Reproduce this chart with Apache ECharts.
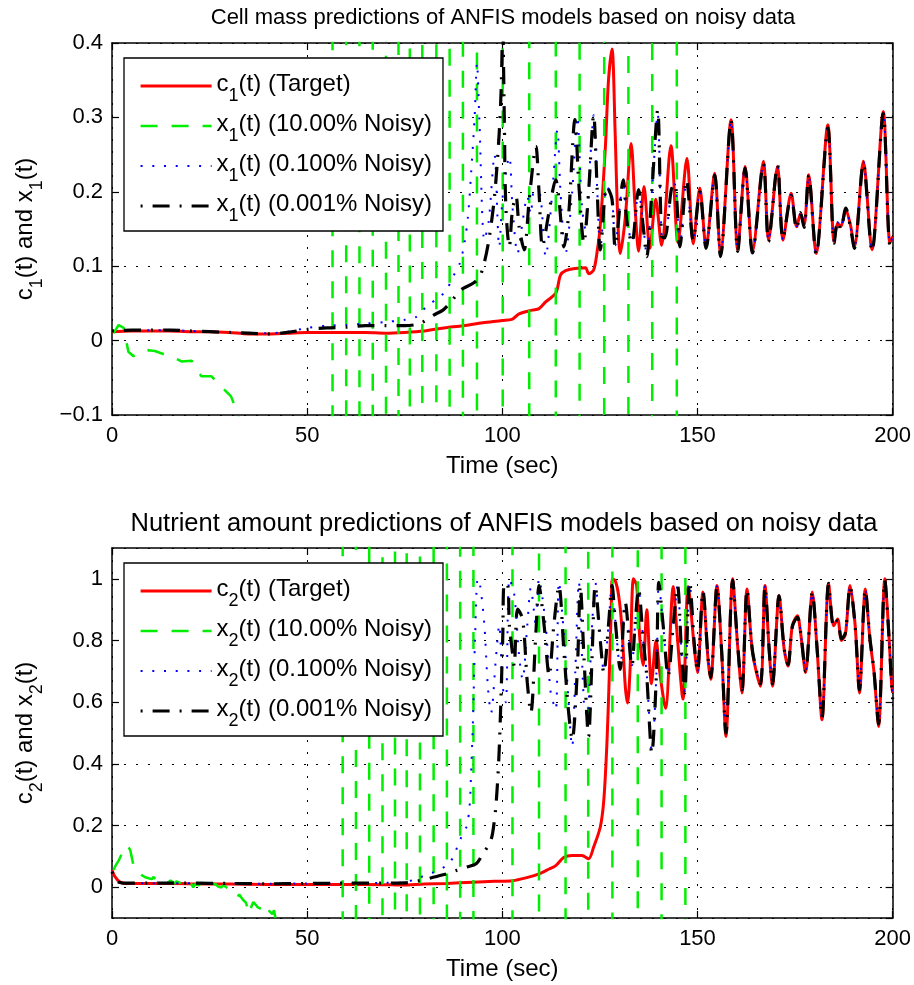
<!DOCTYPE html>
<html><head><meta charset="utf-8">
<script src="https://cdn.jsdelivr.net/npm/echarts@6/dist/echarts.min.js"></script>
<style>html,body{margin:0;padding:0;background:#fff}#c{width:914px;height:985px}</style>
</head><body><div id="c"></div><script>
// ---------------- DATA ----------------
const title1 = 'Cell mass predictions of ANFIS models based on noisy data';
const title2 = 'Nutrient amount predictions of ANFIS models based on noisy data';
const xTicks = [0, 50, 100, 150, 200];
const yTicks1 = [-0.1, 0, 0.1, 0.2, 0.3, 0.4];
const yTicks2 = [0, 0.2, 0.4, 0.6, 0.8, 1];
const yRange2 = [-0.1, 1.1];
const names1 = ['c1(t) (Target)', 'x1(t) (10.00% Noisy)', 'x1(t) (0.100% Noisy)', 'x1(t) (0.001% Noisy)'];
const names2 = ['c2(t) (Target)', 'x2(t) (10.00% Noisy)', 'x2(t) (0.100% Noisy)', 'x2(t) (0.001% Noisy)'];

// --- top: cell mass ---
const c1T = [0,5,10,15,20,25,30,35,40,45,50,55,60,65,70,75,80,85,90,95,100,102.6,104.3,107.7,109.4,111.1,113.7,114.9,116.2,118.7,121.3,122.1,123.4,124.3,125.1,126.4,127.2,128.1,128.9,129.5,130.2,131.5,133.0,134.0,134.9,136.3,137.8,139.3,140.8,143.2,145.0,147.3,148.9,150.6,152.2,154.4,155.9,158.6,160.3,162.2,164.1,166.9,168.2,170.5,171.9,174.0,175.4,176.4,177.3,178.5,180.4,183.4,185.0,185.9,186.7,188.0,189.2,190.2,192.5,194.7,197.6,199.3,200];
const c1Y = [0.012,0.013,0.013,0.013,0.012,0.012,0.011,0.009,0.009,0.010,0.011,0.011,0.011,0.011,0.010,0.011,0.013,0.017,0.020,0.024,0.027,0.029,0.036,0.041,0.043,0.052,0.064,0.088,0.094,0.097,0.098,0.090,0.095,0.120,0.155,0.260,0.350,0.392,0.280,0.175,0.117,0.165,0.265,0.180,0.120,0.207,0.124,0.190,0.128,0.262,0.132,0.245,0.130,0.205,0.126,0.225,0.116,0.297,0.122,0.234,0.120,0.241,0.135,0.234,0.135,0.198,0.153,0.170,0.155,0.223,0.117,0.290,0.133,0.158,0.153,0.176,0.155,0.126,0.241,0.122,0.308,0.131,0.140];

const g1T = [0.4,1.7,3.0,4.2,5.5,6.8,9.3,11.0,13.6,15.5,17.8,20.4,22.9,25.5,28.0,30.5,32.2,33.5,35.0];
const g1Y = [0.010,0.021,0.017,-0.015,-0.021,-0.016,-0.013,-0.014,-0.019,-0.022,-0.028,-0.027,-0.048,-0.048,-0.062,-0.075,-0.098,-0.130,-0.300];
const g1Cross = [56.5,60.0,63.4,66.8,70.2,73.4,76.3,79.5,83.1,86.5,89.9,93.5,100.1,106.9,113.7,119.8,126.1,132.3,138.4,144.7];

const u1T = [0,5,10,15,20,25,30,35,40,45,50,55,60,65,70,75,78,80.6,84,85.7,87.4,89.1,90.3,91.2,92.0,92.9,93.5,94.1,95.4,96.5,98.0,99.2,100.2,101.8,102.6,103.9,105.2,106.4,107.3,108.1,109.4,111.1,112.8,114.1,114.9,116.2,117.9,119.2,120.4,121.3,122.6,123.4,
  124.3,125.1,126.8,128.1,128.9,131.0,131.9,133.2,134.9,136.1,137.0,138.3,139.8,140.8,141.6,143.3,144.2,145.5,147.2,148.9,150.6,152.2,154.4,155.9,158.6,160.3,162.2,164.1,166.9,168.2,170.5,171.9,174.0,175.4,176.4,177.3,178.5,180.4,183.4,185.0,185.9,186.7,188.0,189.2,190.2,192.5,194.7,197.6,199.3,200];
const u1Y = [0.013,0.014,0.014,0.014,0.013,0.012,0.011,0.010,0.010,0.012,0.017,0.020,0.021,0.023,0.025,0.028,0.032,0.046,0.059,0.068,0.086,0.104,0.131,0.167,0.225,0.300,0.373,0.300,0.135,0.160,0.250,0.126,0.200,0.247,0.180,0.117,0.160,0.194,0.170,0.200,0.200,0.113,0.200,0.283,0.200,0.117,0.200,0.301,0.180,0.149,0.250,0.303,
  0.205,0.124,0.207,0.192,0.128,0.214,0.162,0.133,0.201,0.155,0.115,0.198,0.305,0.142,0.140,0.200,0.210,0.128,0.214,0.137,0.201,0.125,0.223,0.115,0.296,0.121,0.233,0.119,0.239,0.134,0.234,0.136,0.196,0.152,0.171,0.154,0.222,0.117,0.288,0.132,0.159,0.152,0.177,0.153,0.125,0.240,0.121,0.306,0.130,0.139];

const b1T = [0,5,10,15,20,25,30,35,40,45,50,55,60,65,70,75,78.9,82.3,84.8,86.5,88.2,89.9,92.5,94.2,95.4,96.7,98.0,99.1,99.7,100.1,100.5,100.9,101.8,102.6,103.5,104.3,105.6,106.9,108.6,109.4,110.3,111.9,113.7,114.5,115.8,117.0,118.6,119.6,120.9,122.1,123.4,124.3,125.1,126.8,128.1,128.9,131.0,131.9,133.2,134.9,136.1,137.0,138.3,139.8,140.8,141.6,143.3,144.2,145.5,147.2,148.9,150.6,152.2,154.4,155.9,158.6,160.3,162.2,164.1,166.9,168.2,170.5,171.9,174.0,175.4,176.4,177.3,178.5,180.4,183.4,185.0,185.9,186.7,188.0,189.2,190.2,192.5,194.7,197.6,199.3,200];
const b1Y = [0.013,0.014,0.014,0.014,0.013,0.012,0.011,0.010,0.009,0.011,0.015,0.017,0.018,0.020,0.020,0.020,0.023,0.034,0.041,0.050,0.061,0.070,0.077,0.086,0.105,0.140,0.194,0.270,0.337,0.420,0.300,0.180,0.126,0.176,0.194,0.153,0.122,0.190,0.261,0.200,0.126,0.171,0.216,0.190,0.126,0.170,0.297,0.210,0.131,0.200,0.303,0.203,0.122,0.207,0.190,0.126,0.216,0.160,0.131,0.203,0.153,0.113,0.200,0.310,0.140,0.138,0.203,0.211,0.126,0.216,0.135,0.200,0.124,0.222,0.113,0.296,0.120,0.232,0.118,0.238,0.133,0.236,0.137,0.195,0.150,0.172,0.152,0.222,0.116,0.286,0.131,0.160,0.150,0.178,0.152,0.124,0.238,0.120,0.305,0.129,0.138];

// --- bottom: nutrient amount ---
const c2T = [0,0.5,1,1.5,2,3,5,10,20,30,40,50,60,70,74,80,85.7,92.5,98,102.6,106,109.4,112,113.7,115.8,117.9,120.4,122.1,123.4,125.1,126.0,126.8,127.4,127.9,128.2,128.9,129.8,130.6,131.5,132.1,132.7,133.6,134.4,135.3,136.1,137.0,138.2,139.4,140.3,141.8,143.8,144.6,146.3,147.6,149.3,150.0,151.4,152.7,153.4,155.0,156.2,157.3,159.0,160.3,161.4,162.7,164.1,166.1,167.3,168.4,169.2,170.9,172.2,173.2,174.3,175.6,176.4,177.7,179.4,180.7,181.9,183.6,184.9,185.9,186.9,187.9,189.1,190.4,191.5,193.0,194.2,195.2,196.4,198.0,198.9,199.7,200];
const c2Y = [0.055,0.040,0.030,0.022,0.017,0.013,0.012,0.012,0.011,0.010,0.009,0.009,0.009,0.008,0.007,0.010,0.012,0.016,0.019,0.021,0.030,0.043,0.059,0.070,0.097,0.103,0.103,0.092,0.130,0.195,0.282,0.467,0.685,0.902,1.000,0.995,0.946,0.848,0.652,0.597,0.700,1.000,0.980,0.793,0.720,0.900,0.660,0.800,0.700,0.580,0.975,0.850,0.610,0.975,0.761,0.696,0.957,0.739,0.674,0.978,0.760,0.489,1.000,0.780,0.630,0.967,0.761,0.652,0.978,0.760,0.652,0.946,0.772,0.717,0.848,0.880,0.826,0.696,0.957,0.760,0.543,0.984,0.848,0.870,0.800,0.820,0.978,0.848,0.630,0.967,0.800,0.700,0.521,1.000,0.850,0.663,0.630];

const g2T = [0.4,1.0,1.7,2.5,3.2,3.8,4.3,4.7,5.1,5.5,6.0,6.8,7.5,8.0,8.5,9.0,9.6,10.2,10.6,11.0,11.5,11.9,12.4,13.0,13.6,14.4,15.0,15.5,16.0,16.5,17.0,17.5,18.0,18.5,19.1,19.6,20.0,20.4,20.8,21.3,21.8,22.3,22.9,23.4,24.0,24.7,25.5,26.0,26.5,27.2,28.0,28.5,29.0,29.7,30.5,31.0,31.5,32.2,32.6,33.0,33.5,33.9,34.3,34.6,35.2,35.5,35.8,36.2,36.5,36.9,37.3,37.7,38.2,38.6,39.0,39.5,39.9,40.5,41.1,41.5,42.0,44.0];
const g2Y = [0.056,0.072,0.086,0.108,0.118,0.136,0.128,0.119,0.095,0.070,0.058,0.048,0.040,0.036,0.032,0.036,0.028,0.026,0.033,0.030,0.022,0.021,0.028,0.024,0.017,0.015,0.022,0.020,0.012,0.019,0.023,0.014,0.016,0.027,0.026,0.015,0.018,0.009,-0.001,0.010,0.012,0.006,0.015,0.007,0.008,0.013,0.005,0.011,0.011,0.002,-0.001,0.006,0.004,-0.004,-0.011,-0.008,-0.018,-0.031,-0.024,-0.028,-0.040,-0.044,-0.050,-0.055,-0.087,-0.072,-0.060,-0.048,-0.044,-0.058,-0.065,-0.062,-0.071,-0.055,-0.060,-0.066,-0.071,-0.080,-0.087,-0.075,-0.108,-0.300];
const g2Cross = [59.1,62.5,65.9,69.3,72.5,75.5,78.9,82.4,85.8,89.2,92.6,102.6,109.4,116.2,122.0,128.2,134.7,140.8,146.9];
const offScale = 3;

const u2T = [0,0.5,1,1.5,2,3,5,10,20,30,40,50,60,70,75,78.9,82.3,85.7,87.4,89.1,90.8,91.6,92.0,92.5,93.0,93.7,94.3,95.4,96.3,97.1,98.4,99.2,100.1,100.9,101.8,103.05,104.3,105.2,106.4,107.3,108.6,109.4,111.1,112.4,113.7,114.5,116.2,117.9,118.7,119.6,120.9,121.7,123.0,123.8,
  125.1,126.0,127.2,128.1,128.9,130.2,131.5,133.2,134.0,134.9,136.1,137.0,138.3,139.5,140.1,141.2,142.5,143.8,144.9,145.9,146.7,148.0,149.3,150.0,151.4,152.7,153.4,155.0,156.2,157.3,159.0,160.3,161.4,162.7,164.1,166.1,167.3,168.4,169.2,170.9,172.2,173.2,174.3,175.6,176.4,177.7,179.4,180.7,181.9,183.6,184.9,185.9,186.9,187.9,189.1,190.4,191.5,193.0,194.2,195.2,196.4,198.0,198.9,199.7,200];
const u2Y = [0.050,0.035,0.025,0.018,0.015,0.013,0.013,0.013,0.013,0.012,0.011,0.012,0.013,0.014,0.016,0.032,0.048,0.070,0.097,0.152,0.195,0.260,0.370,0.550,0.800,1.000,0.980,0.850,0.650,0.565,0.750,0.850,0.650,0.600,1.000,0.950,0.750,0.674,0.850,0.970,0.850,1.000,0.850,0.630,0.576,0.990,0.750,0.456,0.700,0.990,0.600,0.554,0.850,0.990,
  0.800,0.700,0.850,0.980,0.870,0.710,0.920,0.720,0.850,0.965,0.800,0.690,0.440,0.700,0.985,0.850,0.690,0.850,0.975,0.760,0.635,0.985,0.770,0.700,0.960,0.745,0.680,0.975,0.765,0.500,0.995,0.785,0.640,0.965,0.765,0.660,0.975,0.765,0.660,0.945,0.775,0.722,0.845,0.875,0.830,0.700,0.955,0.765,0.550,0.985,0.845,0.865,0.805,0.825,0.975,0.845,0.640,0.965,0.805,0.705,0.530,0.995,0.845,0.665,0.610];

const b2T = [0,0.5,1,1.5,2,3,5,10,20,30,40,50,60,70,75,78,82.3,85.7,88.2,90.8,93.3,95.0,96.7,97.5,98.4,99.2,100.1,100.5,101.4,101.8,102.6,103.05,103.9,105.2,106.4,107.3,108.6,109.4,110.7,112.0,113.2,114.5,115.8,117.0,117.9,119.2,120.0,120.9,122.1,123.0,123.8,125.1,126.0,127.2,128.1,128.9,130.2,131.5,133.2,134.0,134.9,136.1,137.0,138.3,139.5,140.1,141.2,142.5,143.8,144.9,145.9,146.7,148.0,149.3,150.0,151.4,152.7,153.4,155.0,156.2,157.3,159.0,160.3,161.4,162.7,164.1,166.1,167.3,168.4,169.2,170.9,172.2,173.2,174.3,175.6,176.4,177.7,179.4,180.7,181.9,183.6,184.9,185.9,186.9,187.9,189.1,190.4,191.5,193.0,194.2,195.2,196.4,198.0,198.9,199.7,200];
const b2Y = [0.050,0.035,0.025,0.018,0.015,0.013,0.013,0.013,0.013,0.012,0.011,0.012,0.013,0.013,0.014,0.019,0.032,0.043,0.054,0.065,0.076,0.108,0.141,0.174,0.270,0.445,0.804,0.985,0.980,0.850,0.760,0.717,0.902,0.870,0.663,0.565,0.826,0.978,0.850,0.685,0.850,0.978,0.760,0.565,0.478,0.700,0.978,0.750,0.489,0.750,0.978,0.800,0.695,0.850,0.978,0.870,0.706,0.924,0.717,0.850,0.967,0.800,0.685,0.434,0.700,0.989,0.850,0.685,0.850,0.978,0.760,0.630,0.990,0.770,0.700,0.960,0.745,0.680,0.975,0.765,0.500,0.995,0.785,0.640,0.965,0.765,0.660,0.975,0.765,0.660,0.945,0.775,0.722,0.845,0.875,0.830,0.700,0.955,0.765,0.550,0.985,0.845,0.865,0.805,0.825,0.975,0.845,0.640,0.965,0.805,0.705,0.530,0.995,0.845,0.665,0.610];

// ---------------- CHART ----------------
const FONT = '"Liberation Sans", Arial, Helvetica, sans-serif';
// main text nudged up, subscript pushed down (padding shifts the glyph by half its amount)
const rich = {
  m: {fontSize: 24, lineHeight: 26, padding: [0, 0, 4, 0], fontFamily: FONT, color: '#000'},
  s: {fontSize: 18, lineHeight: 18, padding: [20, 0, 0, 0], fontFamily: FONT, color: '#000'}
};
const subFmt = n => `{m|${n[0]}}{s|${n[1]}}{m|${n.slice(2)}}`;
const zip = (t, y) => t.map((v, i) => [v, y[i]]);
function withCross(t, y, cross) {
  const d = zip(t, y);
  let s = -1;
  cross.forEach(x => { d.push([x, s * offScale]); d.push([x, -s * offScale]); s = -s; });
  return d;
}
const fmtY = v => { const r = parseFloat(Number(v).toFixed(3)); return (r < 0 ? '\u2212' : '') + Math.abs(r); };

function xAx(g, pos, main) {
  return {
    type: 'value', gridIndex: g, position: pos, min: xTicks[0], max: xTicks[xTicks.length - 1], interval: xTicks[1] - xTicks[0],
    axisLine: {show: true, onZero: false, lineStyle: {color: '#000', width: 1.5}},
    axisTick: {show: true, inside: true, length: 7, lineStyle: {color: '#000', width: 1.2}},
    axisLabel: {show: main, fontSize: 22, color: '#000', fontFamily: FONT, margin: 10},
    splitLine: {show: main, lineStyle: {type: [2, 10], color: '#000', width: 1}},
    name: main ? 'Time (sec)' : '', nameLocation: 'middle', nameGap: 39,
    nameTextStyle: {fontSize: 24, color: '#000', fontFamily: FONT}
  };
}
function yAx(g, pos, main, name, range, interval) {
  const a = {
    type: 'value', gridIndex: g, position: pos, min: range[0], max: range[1],
    axisLine: {show: true, onZero: false, lineStyle: {color: '#000', width: 1.5}},
    axisTick: {show: true, inside: true, length: 7, lineStyle: {color: '#000', width: 1.2}},
    axisLabel: {show: main, fontSize: 22, color: '#000', fontFamily: FONT, margin: 9, formatter: fmtY},
    splitLine: {show: main, lineStyle: {type: [2, 10], color: '#000', width: 1}},
    name: main ? name : '', nameLocation: 'middle', nameGap: 72,
    nameTextStyle: {fontSize: 24, color: '#000', fontFamily: FONT, rich: rich}
  };
  if (interval) a.interval = interval; else { a.splitNumber = 6; a.axisLabel.showMinLabel = false; a.axisLabel.showMaxLabel = false; }
  return a;
}
function legend(top, names) {
  return {
    orient: 'vertical', left: 124, top: top, itemWidth: 71, itemHeight: 20, itemGap: 2,
    padding: [9, 11, 6, 15], backgroundColor: '#fff', borderColor: '#000', borderWidth: 1.3,
    selectedMode: false, data: names, formatter: subFmt,
    textStyle: {fontSize: 24, color: '#000', fontFamily: FONT, rich: rich},
    itemStyle: {opacity: 0, borderWidth: 0},
    lineStyle: {width: 'inherit'}
  };
}
const red = '#ff0000', green = '#00ee00', blue = '#0000ff', black = '#000000';
function ser(name, g, data, color, width, type, smooth) {
  return {name, type: 'line', xAxisIndex: g, yAxisIndex: g, data, symbol: 'none', showSymbol: false,
    smooth: smooth ? 0.3 : false, clip: true, color: color,
    lineStyle: {color, width, type, cap: 'butt'}, animation: false};
}
const dashG = [17, 14], dotB = [2, 9.7], dashDotK = [2, 10, 17, 10];

const option = {
  animation: false, backgroundColor: '#fff',
  title: [
    {text: title1, left: 503, top: 7, textAlign: 'center', padding: 0, textStyle: {fontSize: 22, fontWeight: 'normal', color: '#000', fontFamily: FONT}},
    {text: title2, left: 504, top: 511, textAlign: 'center', padding: 0, textStyle: {fontSize: 25.5, fontWeight: 'normal', color: '#000', fontFamily: FONT}}
  ],
  grid: [
    {left: 110, top: 43, width: 786, height: 372},
    {left: 110, top: 548, width: 786, height: 370}
  ],
  legend: [legend(58, names1), legend(563, names2)],
  xAxis: [xAx(0, 'bottom', true), xAx(1, 'bottom', true), xAx(0, 'top', false), xAx(1, 'top', false)],
  yAxis: [
    yAx(0, 'left', true, '{m|c}{s|1}{m|(t) and x}{s|1}{m|(t)}', [yTicks1[0], yTicks1[yTicks1.length - 1]], yTicks1[1] - yTicks1[0]),
    yAx(1, 'left', true, '{m|c}{s|2}{m|(t) and x}{s|2}{m|(t)}', yRange2, null),
    yAx(0, 'right', false, '', [yTicks1[0], yTicks1[yTicks1.length - 1]], yTicks1[1] - yTicks1[0]),
    yAx(1, 'right', false, '', yRange2, null)
  ],
  series: [
    ser(names1[0], 0, zip(c1T, c1Y), red, 3, 'solid', true),
    ser(names1[1], 0, withCross(g1T, g1Y, g1Cross), green, 2.5, dashG, false),
    ser(names1[2], 0, zip(u1T, u1Y), blue, 2, dotB, true),
    ser(names1[3], 0, zip(b1T, b1Y), black, 3.2, dashDotK, true),
    ser(names2[0], 1, zip(c2T, c2Y), red, 3, 'solid', true),
    ser(names2[1], 1, withCross(g2T, g2Y, g2Cross), green, 2.5, dashG, false),
    ser(names2[2], 1, zip(u2T, u2Y), blue, 2, dotB, true),
    ser(names2[3], 1, zip(b2T, b2Y), black, 3.2, dashDotK, true)
  ]
};
const chart = echarts.init(document.getElementById('c'), null, {renderer: 'canvas'});
chart.setOption(option);
</script></body></html>
